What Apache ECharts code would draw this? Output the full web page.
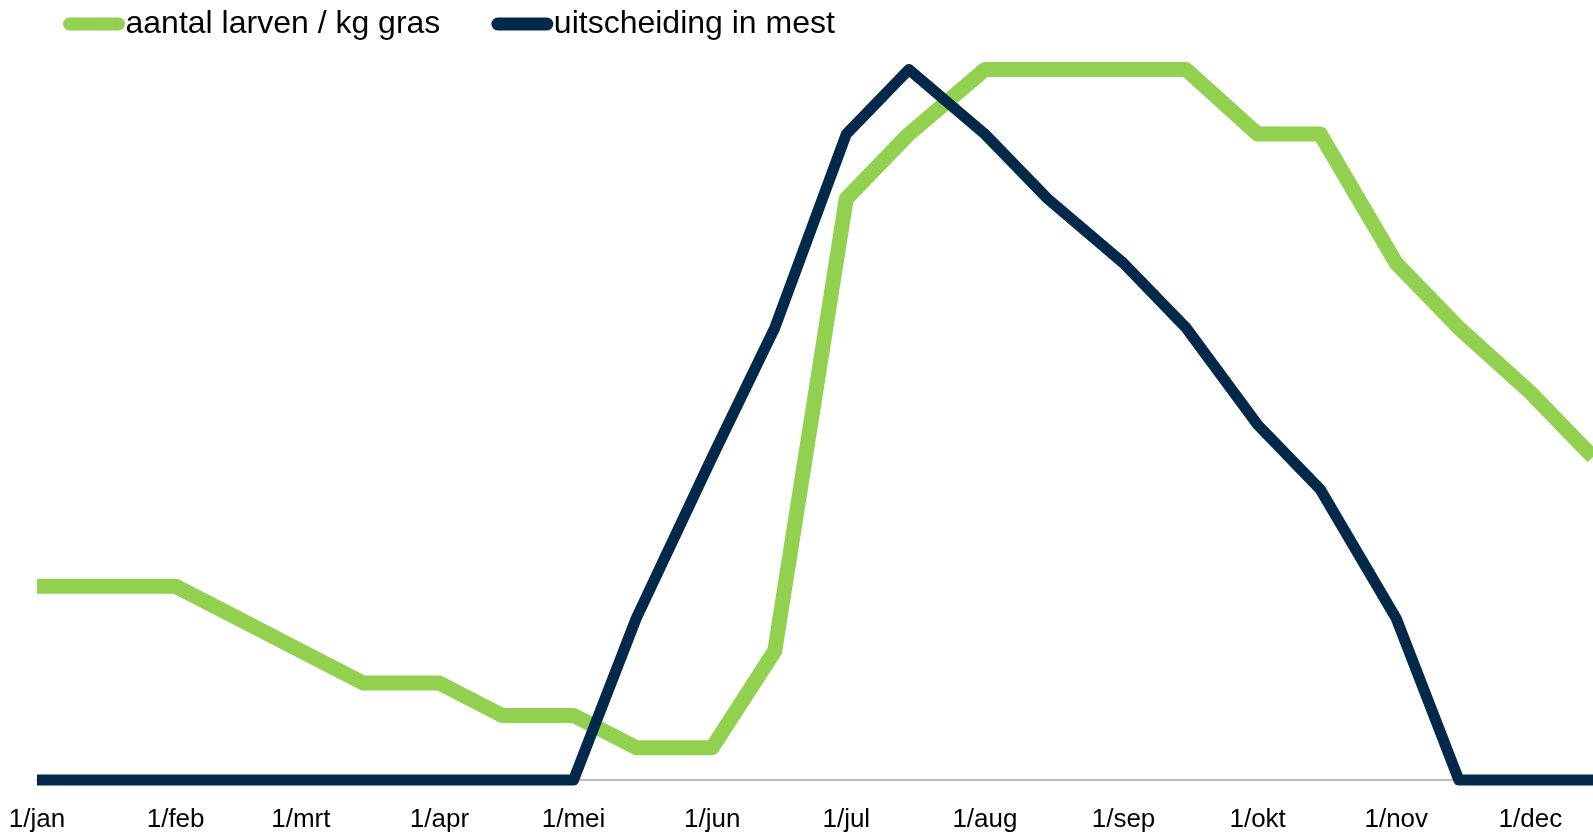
<!DOCTYPE html>
<html>
<head>
<meta charset="utf-8">
<title>Larven en uitscheiding</title>
<script src="https://cdn.jsdelivr.net/npm/echarts@6/dist/echarts.min.js"></script>
<style>
  html, body { margin: 0; padding: 0; background: #ffffff; }
  #chart { width: 1593px; height: 835px; }
</style>
</head>
<body>
<div id="chart"></div>
<script>
// Half-monthly sample dates (MM-DD)
const dates = ['01-01','01-15','02-01','02-15','03-01','03-15','04-01','04-15',
               '05-01','05-15','06-01','06-15','07-01','07-15','08-01','08-15',
               '09-01','09-15','10-01','10-15','11-01','11-15','12-01','12-15'];
// Larvae per kg grass
const larvae = [6,6,6,5,4,3,3,2,2,1,1,4,18,20,22,22,22,22,20,20,16,14,12,10];
// Excretion in manure
const manure = [0,0,0,0,0,0,0,0,0,5,10,14,20,22,20,18,16,14,11,9,5,0,0,0];
// Month start ticks and their labels
const monthStarts = ['01-01','02-01','03-01','04-01','05-01','06-01',
                     '07-01','08-01','09-01','10-01','11-01','12-01'];
const monthLabels = ['1/jan','1/feb','1/mrt','1/apr','1/mei','1/jun',
                     '1/jul','1/aug','1/sep','1/okt','1/nov','1/dec'];
const seriesNames = ['aantal larven / kg gras', 'uitscheiding in mest'];

// Day of year (0 = 1 January) for an MM-DD string
function dayOf(md) {
  const [m, d] = md.split('-').map(Number);
  return Math.round((Date.UTC(2023, m - 1, d) - Date.UTC(2023, 0, 1)) / 86400000);
}

const xDays = dates.map(dayOf);
const tickDays = monthStarts.map(dayOf);
const pair = vals => vals.map((v, i) => [xDays[i], v]);

const capsule = 'path://M6.5,0 H55.5 A6.5,6.5 0 0 1 55.5,13 H6.5 A6.5,6.5 0 0 1 6.5,0 Z';

const chart = echarts.init(document.getElementById('chart'), null, { renderer: 'canvas' });
chart.setOption({
  animation: false,
  backgroundColor: '#ffffff',
  textStyle: { fontFamily: '"Liberation Sans", Arial, sans-serif' },
  legend: {
    left: 58,
    top: 2,
    itemWidth: 63,
    itemHeight: 13,
    itemGap: 51,
    selectedMode: false,
    data: [
      { name: seriesNames[0], icon: capsule, itemStyle: { color: '#92d050' } },
      { name: seriesNames[1], icon: capsule, itemStyle: { color: '#03294a' } }
    ],
    textStyle: {
      fontSize: 32,
      color: '#000000',
      lineHeight: 34,
      padding: [0, 0, 0, -5],
      fontFamily: '"Liberation Sans", Arial, sans-serif'
    }
  },
  grid: { left: 37, right: 0, top: 69.5, bottom: 55, containLabel: false },
  xAxis: {
    type: 'value',
    min: 0,
    max: dayOf('12-15'),
    splitLine: { show: false },
    axisTick: { show: false },
    axisLine: { show: true, lineStyle: { color: '#a6a6a6', width: 1.5 } },
    axisLabel: {
      customValues: tickDays,
      formatter: v => monthLabels[tickDays.indexOf(Math.round(v))] || '',
      fontSize: 26,
      color: '#000000',
      margin: 27,
      fontFamily: '"Liberation Sans", Arial, sans-serif'
    }
  },
  yAxis: {
    type: 'value',
    min: 0,
    max: 22,
    show: false,
    splitLine: { show: false }
  },
  series: [
    {
      name: seriesNames[0],
      type: 'line',
      data: pair(larvae),
      showSymbol: false,
      symbol: 'none',
      clip: false,
      color: '#92d050',
      lineStyle: { color: '#92d050', width: 15, join: 'round', cap: 'butt' },
      z: 2
    },
    {
      name: seriesNames[1],
      type: 'line',
      data: pair(manure),
      showSymbol: false,
      symbol: 'none',
      clip: false,
      color: '#03294a',
      lineStyle: { color: '#03294a', width: 11, join: 'round', cap: 'butt' },
      z: 3
    }
  ]
});
</script>
</body>
</html>
